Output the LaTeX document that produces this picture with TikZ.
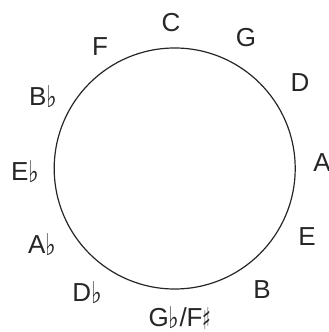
\documentclass[tikz,border=0pt]{standalone}
\usepackage{fontspec}
\setmainfont{Liberation Sans}
\newfontfamily\symfont{DejaVu Sans}
\newcommand{\fl}{\raisebox{-0.08em}{\scalebox{0.75}[1]{\symfont\fontsize{30pt}{30pt}\selectfont ♭}}}
\newcommand{\shp}{\raisebox{-0.12em}{\scalebox{0.6}[1]{\symfont\fontsize{30pt}{30pt}\selectfont ♯}}}
\begin{document}
\begin{tikzpicture}[x=1pt,y=1pt,
  note/.style={font=\fontsize{26pt}{26pt}\selectfont, inner sep=0pt, anchor=center, text=black!85},
  ring/.style={draw=black!85, line width=1.2pt, circle, minimum size=241pt, inner sep=0pt}]
\useasboundingbox (0,0) rectangle (329,332);
\node[ring] (circ) at (174.7,163.5) {};
\node[note] (C) at (171,309) {C};
\node[note] (G) at (246,294) {G};
\node[note] (D) at (300,249) {D};
\node[note] (A) at (322,169) {A};
\node[note] (E) at (307,95) {E};
\node[note] (B) at (262,42) {B};
\node[note] (Gb) at (180,14) {G\fl/F\shp};
\node[note] (Db) at (87,39) {D\fl};
\node[note] (Ab) at (42,87) {A\fl};
\node[note] (Eb) at (25,160) {E\fl};
\node[note] (Bb) at (43,235) {B\fl};
\node[note] (F) at (100,285) {F};
\end{tikzpicture}
\end{document}
